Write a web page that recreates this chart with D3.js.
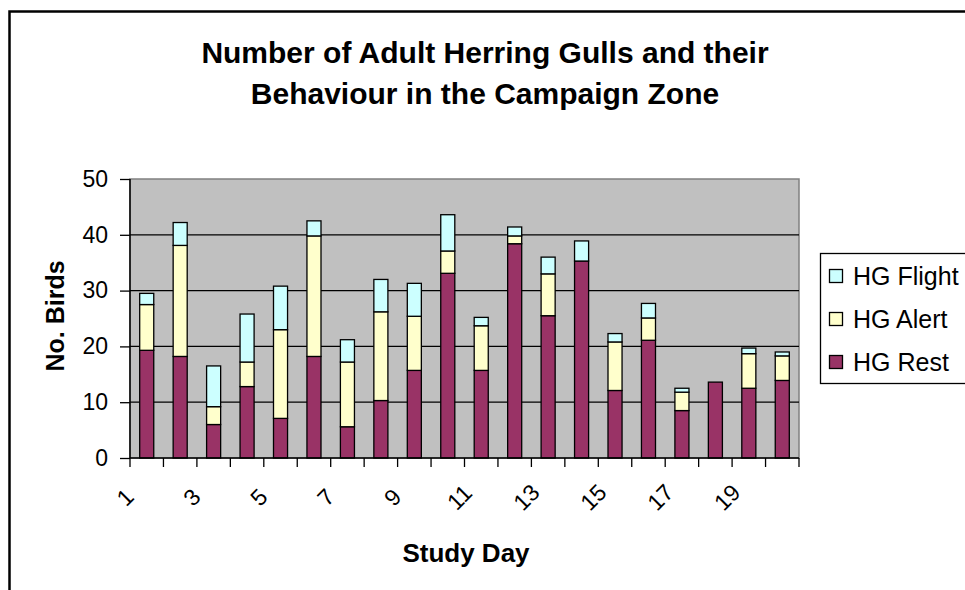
<!DOCTYPE html>
<html><head><meta charset="utf-8">
<script src="https://cdn.jsdelivr.net/npm/d3@7"></script>
<style>body{margin:0;background:#fff;}svg{display:block;font-family:Arial,"Liberation Sans",sans-serif;}</style>
</head><body><svg id="c" width="965" height="590"></svg>
<script>
const days = d3.range(1, 21);
const hgRest   = [19.3,18.2,6.0,12.8,7.1,18.2,5.6,10.3,15.7,33.1,15.7,38.4,25.5,35.3,12.1,21.1,8.5,13.6,12.5,13.9];
const hgAlert  = [8.2,19.9,3.2,4.4,15.9,21.6,11.6,15.9,9.7,4.0,8.0,1.4,7.5,0,8.7,4.0,3.3,0,6.2,4.4];
const hgFlight = [2.0,4.1,7.3,8.6,7.8,2.7,4.0,5.8,5.9,6.5,1.5,1.6,3.0,3.6,1.5,2.6,0.7,0,1.0,0.7];
const seriesNames = ["HG Rest","HG Alert","HG Flight"];
const seriesColors = ["#993366","#FFFFCC","#CCFFFF"];
const yTicks = [0,10,20,30,40,50];
const xLabelDays = [1,3,5,7,9,11,13,15,17,19];
const titleLines = ["Number of Adult Herring Gulls and their","Behaviour in the Campaign Zone"];

const FONT = "Arial,'Liberation Sans',sans-serif";
const svg = d3.select("#c");
svg.append("rect").attr("x",9.5).attr("y",11.5).attr("width",1100).attr("height",700)
  .attr("fill","#fff").attr("stroke","#000").attr("stroke-width",2.5);

const P = {l:130, r:799, t:179, b:458};
const x = d3.scaleBand().domain(days).range([P.l,P.r]).paddingInner(0.58).paddingOuter(0.29);
const xb = d3.scaleBand().domain(days).range([P.l,P.r]);
const y = d3.scaleLinear().domain([0,50]).range([P.b,P.t]);

svg.append("rect").attr("x",P.l).attr("y",P.t).attr("width",P.r-P.l).attr("height",P.b-P.t)
  .attr("fill","#C0C0C0").attr("stroke","#808080").attr("stroke-width",1.5);

svg.append("g").selectAll("line").data(yTicks.filter(t=>t>0 && t<50)).join("line")
  .attr("x1",P.l).attr("x2",P.r).attr("y1",d=>y(d)).attr("y2",d=>y(d))
  .attr("stroke","#000").attr("stroke-width",1.3);

const rows = days.map((d,i)=>({day:d,"HG Rest":hgRest[i],"HG Alert":hgAlert[i],"HG Flight":hgFlight[i]}));
const stack = d3.stack().keys(seriesNames)(rows);
svg.append("g").selectAll("g").data(stack).join("g")
  .attr("fill",(s,i)=>seriesColors[i])
  .selectAll("rect").data(s=>s.filter(p=>p[1]-p[0]>0)).join("rect")
  .attr("x",p=>x(p.data.day)).attr("width",x.bandwidth())
  .attr("y",p=>y(p[1])).attr("height",p=>y(p[0])-y(p[1]))
  .attr("stroke","#000").attr("stroke-width",1.3);

// y axis
const ya = svg.append("g").attr("transform",`translate(${P.l},0)`)
  .call(d3.axisLeft(y).tickValues(yTicks).tickSize(10).tickPadding(12).tickFormat(d3.format("d")));
ya.select(".domain").attr("stroke","#000").attr("stroke-width",1.5).attr("d",`M0,${P.b}V${P.t}`);
ya.selectAll(".tick line").attr("stroke","#000").attr("stroke-width",1.3);
ya.selectAll("text").attr("font-size",23).attr("fill","#000").style("font-family",FONT);

// x axis
const xa = svg.append("g").attr("transform",`translate(0,${P.b})`);
xa.append("line").attr("x1",P.l).attr("x2",P.r).attr("stroke","#000").attr("stroke-width",1.5);
xa.selectAll("line.t").data(days.concat([21])).join("line").attr("class","t")
  .attr("x1",d=>d<=20?xb(d):P.r).attr("x2",d=>d<=20?xb(d):P.r).attr("y1",0).attr("y2",9)
  .attr("stroke","#000").attr("stroke-width",1.3);
xa.selectAll("text").data(xLabelDays).join("text")
  .attr("transform",d=>`translate(${xb(d)+xb.bandwidth()/2-16},${45}) rotate(-45)`)
  .attr("text-anchor","middle").attr("font-size",23).text(d=>d);

// titles
svg.append("text").attr("text-anchor","middle").attr("font-weight","bold").attr("font-size",30)
  .selectAll("tspan").data(titleLines).join("tspan").attr("x",485).attr("y",(d,i)=>63+i*41).text(d=>d);
svg.append("text").attr("transform","translate(64,316) rotate(-90)").attr("text-anchor","middle")
  .attr("font-weight","bold").attr("font-size",25).text("No. Birds");
svg.append("text").attr("x",466).attr("y",562).attr("text-anchor","middle")
  .attr("font-weight","bold").attr("font-size",26).text("Study Day");

// legend
const lg = svg.append("g");
lg.append("rect").attr("x",820.5).attr("y",253.5).attr("width",200).attr("height",130)
  .attr("fill","#fff").attr("stroke","#000").attr("stroke-width",1.3);
const legOrder = [2,1,0];
lg.selectAll("g").data(legOrder).join("g").attr("transform",(d,i)=>`translate(829,${276+i*43})`)
  .each(function(d){
    const g=d3.select(this);
    g.append("rect").attr("x",0.5).attr("y",-6.5).attr("width",13).attr("height",13)
      .attr("fill",seriesColors[d]).attr("stroke","#000").attr("stroke-width",1.3);
    g.append("text").attr("x",24).attr("y",0).attr("dy","0.36em").attr("font-size",25).text(seriesNames[d]);
  });
</script></body></html>
